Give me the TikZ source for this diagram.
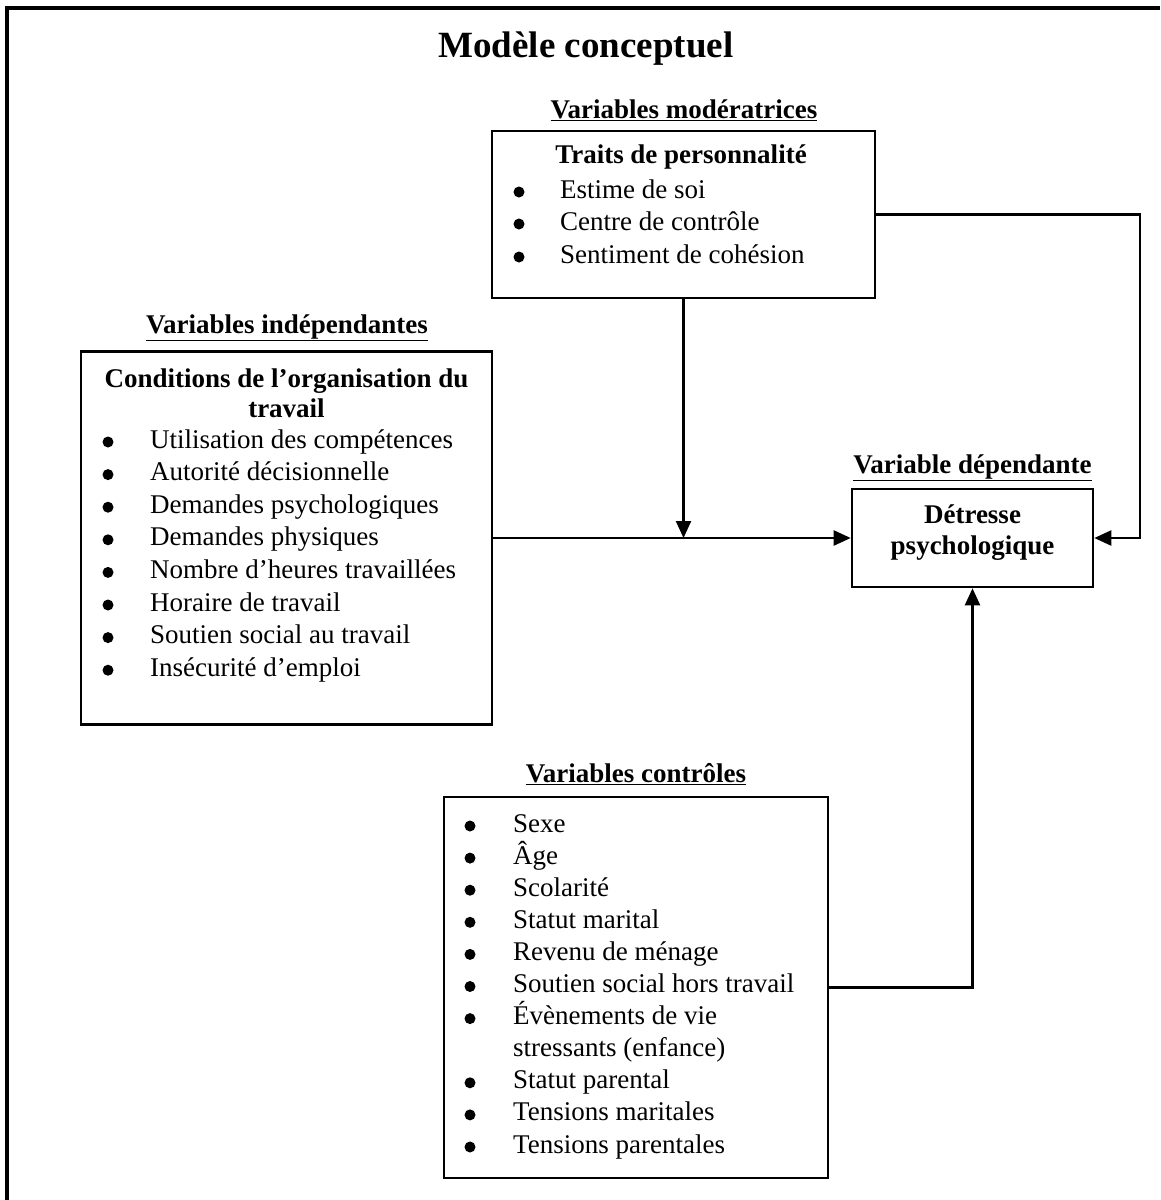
\documentclass[tikz,border=0pt]{standalone}
\usepackage{fontspec}
\setmainfont{Liberation Serif}
\usetikzlibrary{arrows.meta}
\begin{document}
\begin{tikzpicture}[x=1pt,y=-1pt,
  box/.style={draw, line width=2.6pt, inner sep=0pt},
  txt/.style={anchor=base west, inner sep=0pt, font=\fontsize{27}{32}\selectfont},
  btxt/.style={anchor=base, inner sep=0pt, font=\fontsize{27}{32}\selectfont\bfseries},
  bul/.style={circle, fill=black, inner sep=0pt, minimum size=11pt},
  conn/.style={line width=2.3pt, -{Triangle[length=17pt,width=15pt]}},
  frame/.style={line width=4pt}
]
\useasboundingbox (0,0) rectangle (1160,1200);
\draw[frame] (7,1200) -- (7,8) -- (1160,8);

% title
\node[anchor=base, inner sep=0pt, font=\fontsize{37}{42}\selectfont\bfseries] (title) at (586,57) {Modèle conceptuel};

% boxes
\node[box, minimum width=383pt, minimum height=167pt] (mod) at (683.5,214.5) {};
\node[box, minimum width=411pt, minimum height=373pt] (indep) at (286.5,538) {};
\node[box, minimum width=241pt, minimum height=98pt] (dep) at (972.5,538) {};
\node[box, minimum width=384pt, minimum height=381pt] (ctrl) at (636,987.5) {};

% headings
\node[btxt] (hmod) at (684,118) {\underline{Variables modératrices}};
\node[btxt] (hind) at (287,333) {\underline{Variables indépendantes}};
\node[btxt] (hdep) at (972.5,473) {\underline{Variable dépendante}};
\node[btxt] (hctl) at (636,782) {\underline{Variables contrôles}};

% moderator content
\node[btxt] (modt) at (681,163) {Traits de personnalité};
\node[bul] (mb1) at (519,192) {};
\node[txt] (mt1) at (560,198) {Estime de soi};
\node[bul] (mb2) at (519,224) {};
\node[txt] (mt2) at (560,230) {Centre de contrôle};
\node[bul] (mb3) at (519,257) {};
\node[txt] (mt3) at (560,263) {Sentiment de cohésion};

% independent content
\node[btxt] (indt1) at (286.5,387) {Conditions de l’organisation du};
\node[btxt] (indt2) at (286.5,417) {travail};
\foreach \t [count=\i] in {Utilisation des compétences, Autorité décisionnelle, Demandes psychologiques, Demandes physiques, Nombre d’heures travaillées, Horaire de travail, Soutien social au travail, Insécurité d’emploi}{
  \node[bul] (ib\i) at (108,{442+32.6*(\i-1)}) {};
  \node[txt] (it\i) at (150,{448+32.6*(\i-1)}) {\t};
}

% dependent content
\node[btxt] (dt1) at (972.5,523) {Détresse};
\node[btxt] (dt2) at (972.5,554) {psychologique};

% control content
\foreach \t/\k [count=\i] in {Sexe/0, Âge/1, Scolarité/2, Statut marital/3, Revenu de ménage/4, Soutien social hors travail/5, Évènements de vie/6, Statut parental/8, Tensions maritales/9, Tensions parentales/10}{
  \node[bul] (cb\i) at (470,{826+32.1*\k}) {};
  \node[txt] (ct\i) at (513,{832+32.1*\k}) {\t};
}
\node[txt] (ct6b) at (513,{832+32.1*7}) {stressants (enfance)};

% connectors
\coordinate (rc) at (1140,214.5);
\draw[conn] (mod.east) -- (rc) |- (dep.east);
\draw[conn] (mod.south) -- (mod.south |- dep.west);
\draw[conn] (indep.east) -- (dep.west);
\draw[conn] (ctrl.east) -| (dep.south);
\end{tikzpicture}
\end{document}
